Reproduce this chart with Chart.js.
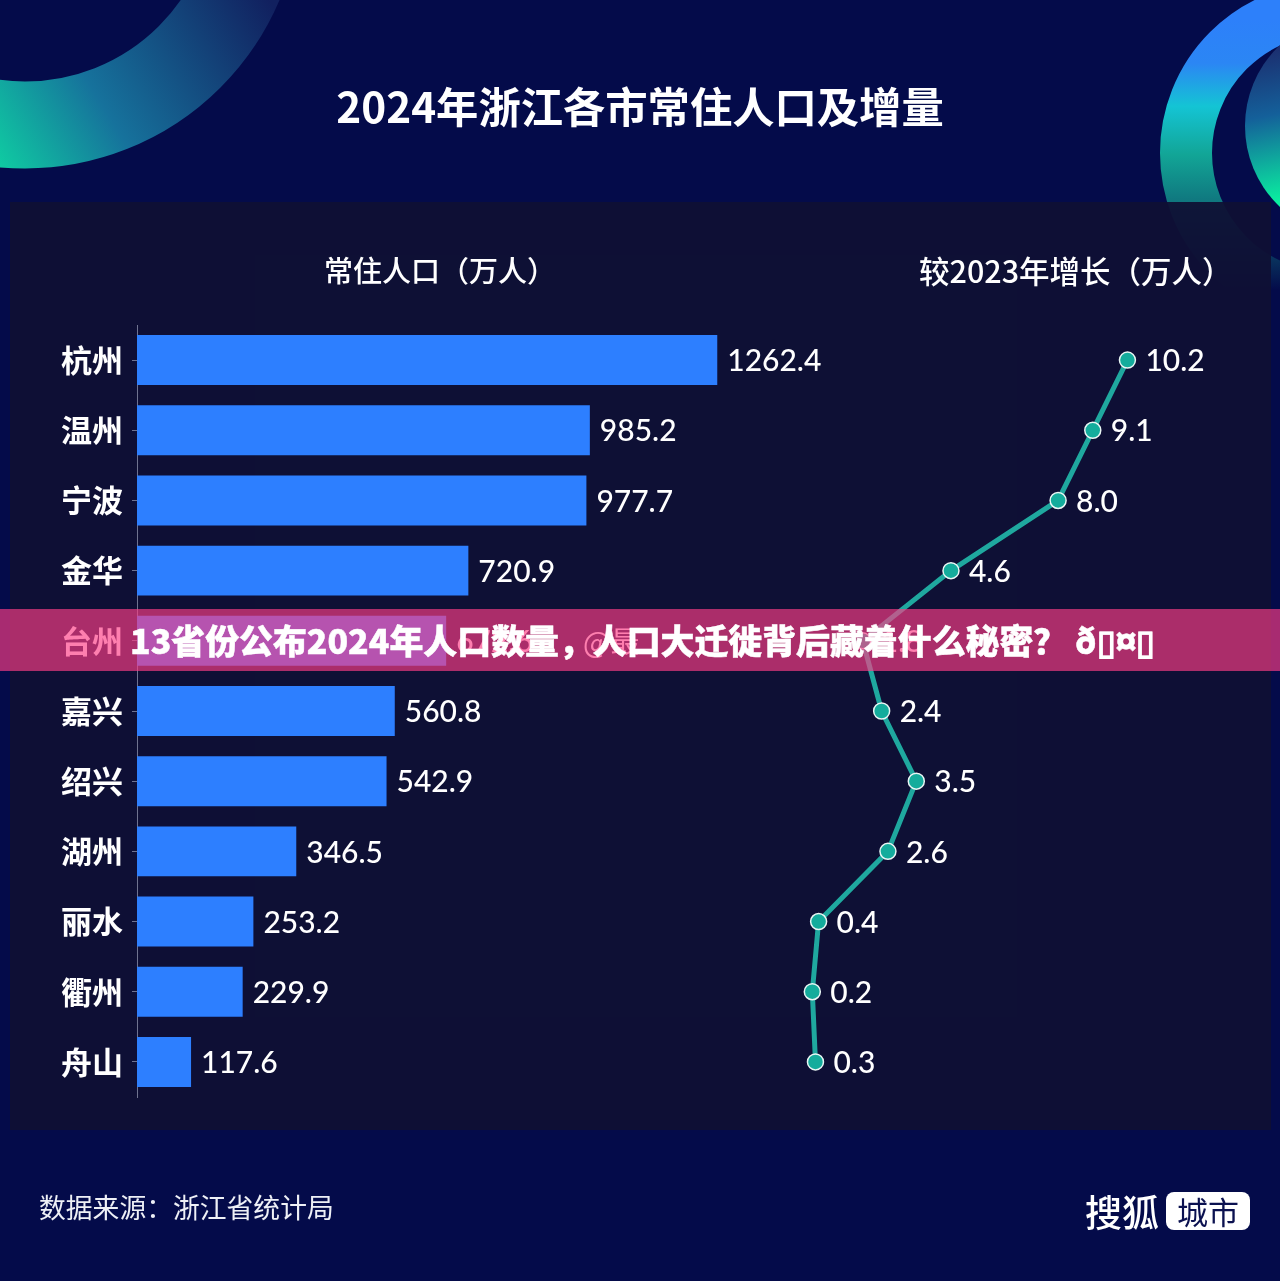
<!DOCTYPE html>
<html lang="zh-CN">
<head>
<meta charset="utf-8">
<title>2024年浙江各市常住人口及增量</title>
<script src="https://cdn.jsdelivr.net/npm/chart.js@4"></script>
<style>
  html, body { margin: 0; padding: 0; background: #040b4a; }
  #page { position: relative; width: 1280px; height: 1281px; overflow: hidden; background: #040b4a;
          font-family: "Noto Sans CJK SC", "Noto Sans", sans-serif; color: #fff; }
  #page > * { position: absolute; }
  .txt { white-space: nowrap; line-height: 1; }
  #deco { left: 0; top: 0; }
  #panel { left: 10px; top: 202px; width: 1261px; height: 928px; background: rgba(15, 16, 52, 0.94); }
  #myChart { left: 0; top: 0; }
  #title { left: 0; width: 1280px; top: 84px; text-align: center; font-size: 42.3px; font-weight: 700; }
  #headA { left: 324px; top: 255px; font-size: 29px; font-weight: 500; }
  #headB { left: 919px; top: 255px; font-size: 30.5px; font-weight: 500; }
  #source { left: 39px; top: 1194px; font-size: 26.8px; color: #eef0f6; }
  #logo { left: 1085px; top: 1193px; font-size: 37px; font-weight: 500; }
  #logoBox { left: 1166px; top: 1192px; width: 84px; height: 38px; background: #fff; border-radius: 8px;
             color: #0b1150; font-size: 31px; text-align: center; line-height: 38px; }
  #mark { left: 583px; top: 626px; font-size: 29px; color: #fff; }
  #banner { left: 0; top: 609px; width: 1280px; height: 62px; background: rgba(254, 60, 134, 0.66); }
  #bannerText { left: 130px; top: 623px; font-size: 33.9px; font-weight: 900; -webkit-text-stroke: 0.5px #fff; }
</style>
</head>
<body>
<div id="page">
  <svg id="deco" width="1280" height="1281">
    <defs>
      <linearGradient id="ringLeft" gradientUnits="userSpaceOnUse" x1="0" y1="170" x2="270" y2="0">
        <stop offset="0" stop-color="#0fcca2"/>
        <stop offset="0.38" stop-color="#16729c"/>
        <stop offset="1" stop-color="#11205f"/>
      </linearGradient>
      <linearGradient id="ringRight" gradientUnits="userSpaceOnUse" x1="1220" y1="20" x2="1220" y2="290">
        <stop offset="0" stop-color="#2d80fa"/>
        <stop offset="0.16" stop-color="#2b86f4"/>
        <stop offset="0.32" stop-color="#14c4d4"/>
        <stop offset="0.5" stop-color="#12a596"/>
        <stop offset="0.72" stop-color="#0f6a78"/>
        <stop offset="1" stop-color="#040b4a"/>
      </linearGradient>
      <linearGradient id="discRight" gradientUnits="userSpaceOnUse" x1="1260" y1="45" x2="1290" y2="200">
        <stop offset="0" stop-color="#1c2a6c"/>
        <stop offset="0.45" stop-color="#14609a"/>
        <stop offset="1" stop-color="#0af0a0"/>
      </linearGradient>
    </defs>
    <circle cx="25" cy="-108" r="233" fill="none" stroke="url(#ringLeft)" stroke-width="87"/>
    <circle cx="1331" cy="153" r="145" fill="none" stroke="url(#ringRight)" stroke-width="52"/>
    <circle cx="1356" cy="126" r="111" fill="url(#discRight)"/>
  </svg>
  <div id="panel"></div>
  <canvas id="myChart" width="1280" height="1281"></canvas>
  <div id="title" class="txt">2024年浙江各市常住人口及增量</div>
  <div id="headA" class="txt">常住人口（万人）</div>
  <div id="headB" class="txt">较2023年增长（万人）</div>
  <div id="source" class="txt">数据来源：浙江省统计局</div>
  <div id="logo" class="txt">搜狐</div>
  <div id="logoBox" class="txt">城市</div>
  <div id="mark" class="txt">@最</div>
  <div id="banner"></div>
  <div id="bannerText" class="txt">13省份公布2024年人口数量，人口大迁徙背后藏着什么秘密？ ð▯¤▯</div>
</div>
<script>
const cities = ['杭州', '温州', '宁波', '金华', '台州', '嘉兴', '绍兴', '湖州', '丽水', '衢州', '舟山'];
const population = [1262.4, 985.2, 977.7, 720.9, 672.6, 560.8, 542.9, 346.5, 253.2, 229.9, 117.6];
const growth = [10.2, 9.1, 8.0, 4.6, 1.8, 2.4, 3.5, 2.6, 0.4, 0.2, 0.3];
const growthLabels = ['10.2', '9.1', '8.0', '4.6', '1.8', '2.4', '3.5', '2.6', '0.4', '0.2', '0.3'];

const labelFont = '500 30px Lato, "Noto Sans", sans-serif';

// value labels next to the bars and the points
const valueLabels = {
  id: 'valueLabels',
  afterDatasetsDraw(chart) {
    const ctx = chart.ctx;
    ctx.save();
    ctx.font = labelFont;
    ctx.fillStyle = '#ffffff';
    ctx.textBaseline = 'middle';
    ctx.textAlign = 'left';
    chart.getDatasetMeta(0).data.forEach((el, i) => {
      ctx.fillText(population[i].toFixed(1), el.x + 10, el.y + 1.5);
    });
    chart.getDatasetMeta(1).data.forEach((el, i) => {
      ctx.fillText(growthLabels[i], el.x + 18, el.y + 1.5);
    });
    ctx.restore();
  }
};

new Chart(document.getElementById('myChart').getContext('2d'), {
  data: {
    labels: cities,
    datasets: [
      {
        type: 'bar',
        data: population,
        xAxisID: 'x',
        yAxisID: 'y',
        backgroundColor: '#2d7fff',
        barPercentage: 0.712,
        categoryPercentage: 1,
        order: 2
      },
      {
        type: 'line',
        data: growth,
        xAxisID: 'x2',
        yAxisID: 'y',
        indexAxis: 'y',
        borderColor: '#1fa89f',
        borderWidth: 5,
        tension: 0,
        pointRadius: 8,
        pointBackgroundColor: '#14ac9c',
        pointBorderColor: '#e8f6f4',
        pointBorderWidth: 1.5,
        order: 1
      }
    ]
  },
  options: {
    indexAxis: 'y',
    responsive: false,
    animation: false,
    layout: { padding: { top: 325, bottom: 184, left: 0, right: 0 } },
    plugins: { legend: { display: false }, tooltip: { enabled: false }, title: { display: false } },
    scales: {
      x: { type: 'linear', display: false, min: 0, max: 2466 },
      x2: { type: 'linear', display: false, min: -21.23, max: 14.74 },
      y: {
        type: 'category',
        offset: true,
        afterFit: (scale) => { scale.width = 137; },
        border: { color: '#6f7390', width: 1 },
        grid: { offset: false, drawOnChartArea: false, drawTicks: true, tickLength: 5, color: '#6f7390' },
        ticks: {
          color: '#ffffff',
          padding: 9,
          font: { family: '"Noto Sans CJK SC"', size: 31, weight: '700' }
        }
      }
    }
  },
  plugins: [valueLabels]
});
</script>
</body>
</html>
